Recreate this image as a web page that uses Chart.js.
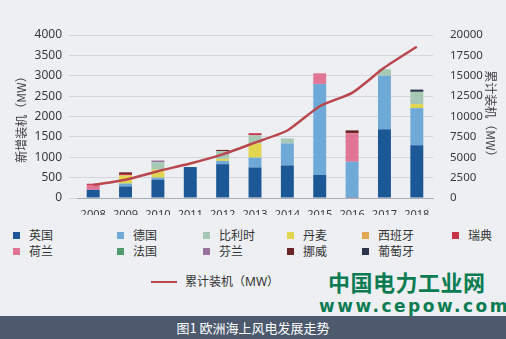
<!DOCTYPE html>
<html>
<head>
<meta charset="utf-8">
<script src="https://cdn.jsdelivr.net/npm/chart.js@4/dist/chart.umd.min.js"></script>
<style>
  html, body { margin: 0; padding: 0; }
  body {
    width: 506px; height: 339px; overflow: hidden; position: relative;
    background: #edeff3;
    font-family: "Noto Sans", "Noto Sans CJK SC", sans-serif;
  }
  #wrap { position: absolute; left: 0; top: 0; width: 506px; height: 215px; }
  #legend { position: absolute; left: 0; top: 228px; width: 506px; height: 40px; }
  .item { position: absolute; font-size: 12px; color: #333; line-height: 16px; white-space: nowrap; }
  .item i { display: inline-block; width: 7px; height: 7px; margin-right: 9px; vertical-align: 1px; }
  #lineItem { position: absolute; left: 151px; top: 274px; font-size: 12px; color: #333; line-height: 16px; }
  #lineItem i { display: inline-block; width: 26px; height: 2.5px; background: #b9474e; vertical-align: 3px; margin-right: 8px; }
  #wm1 { position: absolute; left: 328px; top: 268px; font-size: 22px; font-weight: bold; color: #0b7c52;
         font-family: "Noto Sans CJK SC", sans-serif; letter-spacing: 0.5px; line-height: 26px; }
  #wm2 { position: absolute; left: 319px; top: 296px; font-size: 17px; font-weight: bold; color: #0b7c52;
         font-family: "DejaVu Sans", sans-serif; letter-spacing: 2.5px; line-height: 20px; }
  #caption { position: absolute; left: 0; top: 316px; width: 506px; height: 23px; background: #4d5a6e;
             color: #fff; font-size: 13px; text-align: center; line-height: 23px;
             font-family: "Noto Sans CJK SC", sans-serif; }
</style>
</head>
<body>
<div id="wrap"><canvas id="chart" width="506" height="215"></canvas></div>
<div id="legend"></div>
<div id="lineItem"><i></i>累计装机（MW）</div>
<div id="wm1">中国电力工业网</div>
<div id="wm2">www.cepow.com</div>
<div id="caption">图1 欧洲海上风电发展走势</div>
<script>
// 新增装机 by country (MW)
const years = ['2008', '2009', '2010', '2011', '2012', '2013', '2014', '2015', '2016', '2017', '2018'];
const uk          = [200, 285, 450, 760, 830, 750, 800, 565, 30, 1690, 1295];
const germany     = [0, 70, 50, 0, 80, 240, 540, 2235, 860, 1310, 910];
const denmark     = [0, 200, 200, 0, 50, 350, 0, 0, 0, 0, 100];
const belgium     = [0, 0, 180, 0, 190, 200, 120, 0, 0, 160, 300];
const netherlands = [120, 0, 0, 0, 0, 0, 0, 260, 700, 0, 0];
const sweden      = [30, 35, 0, 0, 0, 50, 0, 0, 0, 0, 0];
const spain       = [0, 0, 0, 0, 0, 0, 0, 0, 0, 0, 0];
const france      = [0, 0, 0, 0, 0, 0, 0, 0, 0, 0, 0];
const finland     = [0, 0, 40, 0, 0, 0, 0, 0, 0, 0, 0];
const norway      = [0, 40, 0, 0, 30, 0, 0, 0, 70, 0, 0];
const portugal    = [0, 0, 0, 0, 0, 0, 0, 0, 0, 0, 55];
// 累计装机 (MW)
const cumulative  = [1600, 2250, 3290, 4240, 5360, 6800, 8280, 11260, 12900, 16000, 18560];

const leftTicks = [0, 500, 1000, 1500, 2000, 2500, 3000, 3500, 4000];
const rightTicks = [0, 2500, 5000, 7500, 10000, 12500, 15000, 17500, 20000];

// stacking order, bottom to top
const series = [
  { name: '英国', data: uk, color: '#1d5896' },
  { name: '德国', data: germany, color: '#6fa9d8' },
  { name: '丹麦', data: denmark, color: '#e2d650' },
  { name: '比利时', data: belgium, color: '#a6c8b4' },
  { name: '荷兰', data: netherlands, color: '#e07694' },
  { name: '瑞典', data: sweden, color: '#c8344a' },
  { name: '西班牙', data: spain, color: '#e2a851' },
  { name: '法国', data: france, color: '#4d9a6c' },
  { name: '芬兰', data: finland, color: '#98739c' },
  { name: '挪威', data: norway, color: '#6b2527' },
  { name: '葡萄牙', data: portugal, color: '#2c344c' }
];
const legendOrder = ['英国', '德国', '比利时', '丹麦', '西班牙', '瑞典', '荷兰', '法国', '芬兰', '挪威', '葡萄牙'];
const legendCols = [13, 117, 203, 287, 362, 452];

const tickFont = { family: '"Noto Sans", "Noto Sans CJK SC", sans-serif', size: 12 };
const titleFont = { family: '"Noto Sans CJK SC", sans-serif', size: 12 };

const datasets = series.map(s => ({
  type: 'bar',
  label: s.name,
  data: s.data,
  backgroundColor: s.color,
  yAxisID: 'y',
  order: 1,
  barPercentage: 0.5,
  categoryPercentage: 0.8
}));
datasets.push({
  type: 'line',
  label: '累计装机（MW）',
  data: cumulative,
  yAxisID: 'y2',
  borderColor: '#b9474e',
  borderWidth: 2.5,
  pointRadius: 0,
  tension: 0.2,
  order: 0
});

const chart = new Chart(document.getElementById('chart'), {
  type: 'bar',
  data: { labels: years, datasets: datasets },
  options: {
    responsive: false,
    animation: false,
    layout: { padding: { top: 35, left: 0, right: 0, bottom: 0 } },
    plugins: { legend: { display: false }, tooltip: { enabled: false } },
    scales: {
      x: {
        stacked: true,
        grid: { display: false },
        border: { color: '#a9adb3' },
        ticks: { color: '#3a3a3a', font: { ...tickFont, size: 11 }, padding: 2, maxRotation: 0 },
        afterFit: s => { s.height = 17; }
      },
      y: {
        stacked: true,
        position: 'left',
        min: 0, max: 4000,
        afterBuildTicks: s => { s.ticks = leftTicks.map(v => ({ value: v })); },
        grid: { color: '#d3d6db', lineWidth: 1 },
        border: { display: false },
        ticks: { color: '#3a3a3a', font: tickFont, padding: 7, callback: v => String(v) },
        title: { display: true, text: '新增装机（MW）', color: '#444', font: titleFont, padding: { top: 14, bottom: 0 } },
        afterFit: s => { s.width = 77; }
      },
      y2: {
        position: 'right',
        min: 0, max: 20000,
        afterBuildTicks: s => { s.ticks = rightTicks.map(v => ({ value: v })); },
        grid: { display: false },
        border: { display: false },
        ticks: { color: '#3a3a3a', font: { ...tickFont, size: 11.5 }, padding: 9, callback: v => String(v) },
        title: { display: true, text: '累计装机（MW）', color: '#444', font: titleFont, padding: { top: 8, bottom: 0 } },
        afterFit: s => { s.width = 73; }
      }
    }
  }
});

// HTML legend in the picture's grid
const legendEl = document.getElementById('legend');
legendOrder.forEach((name, i) => {
  const s = series.find(d => d.name === name);
  const el = document.createElement('div');
  el.className = 'item';
  el.style.left = legendCols[i % 6] + 'px';
  el.style.top = (Math.floor(i / 6) * 16) + 'px';
  el.innerHTML = '<i style="background:' + s.color + '"></i>' + name;
  legendEl.appendChild(el);
});
</script>
</body>
</html>
